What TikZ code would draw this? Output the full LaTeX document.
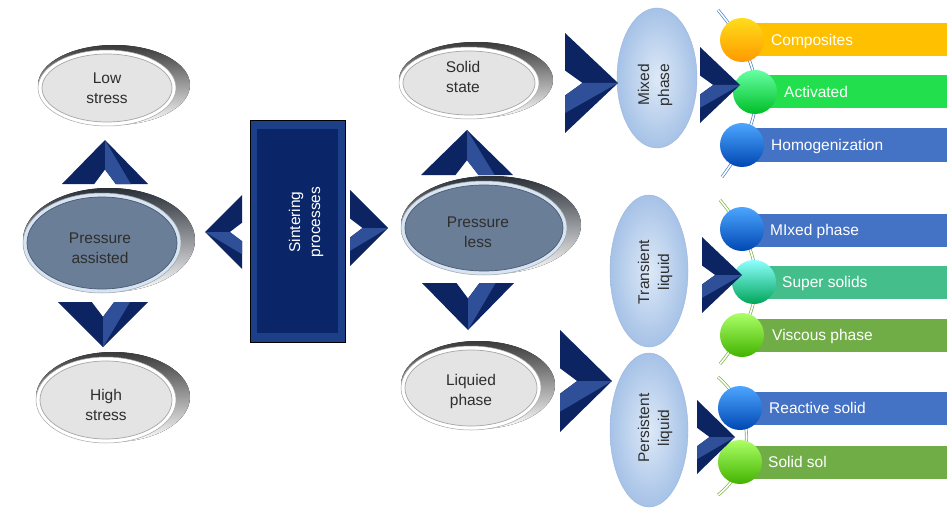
\documentclass[tikz,border=0pt]{standalone}
\usepackage{fontspec}
\setmainfont{Liberation Sans}
\usetikzlibrary{shapes.geometric,calc}
\definecolor{chevdark}{HTML}{0D2463}
\definecolor{chevlight}{HTML}{2F5098}
\definecolor{txtgray}{HTML}{2E2E2E}
\definecolor{gfill}{HTML}{E4E4E4}
\definecolor{pfill}{HTML}{6B7E97}
\definecolor{pedge}{HTML}{4A5A70}
\definecolor{prim}{HTML}{2A3038}
\definecolor{pring}{HTML}{D6E4F3}
\definecolor{grim}{HTML}{3A3A3A}
\definecolor{mid1}{HTML}{DDE9F7}
\definecolor{mid2}{HTML}{A6C2E7}
\definecolor{mid3}{HTML}{9BB6DA}
\definecolor{spouter}{HTML}{1C3F88}
\definecolor{spinner}{HTML}{0B2668}
\definecolor{cComp}{HTML}{FFC000}
\definecolor{cAct}{HTML}{22E04D}
\definecolor{cBlue}{HTML}{4472C4}
\definecolor{cSuper}{HTML}{44BF8B}
\definecolor{cVisc}{HTML}{70AD47}
\definecolor{dblue}{HTML}{4A7EC8}
\definecolor{dgreen}{HTML}{7CB342}

% horizontal chevron: tip x, tip y, back x, half height
\newcommand\hchev[4]{%
  \fill[chevdark] (#1,#2) -- (#3,{#2-#4}) -- (#3,{#2-0.25*#4}) -- ({#3+0.33*(#1-#3)},#2) -- (#3,{#2+0.25*#4}) -- (#3,{#2+#4}) -- cycle;
  \fill[chevlight] (#1,#2) -- ({#3+0.33*(#1-#3)},#2) -- (#3,{#2+0.25*#4}) -- (#3,{#2+0.6*#4}) -- cycle;
}
% vertical chevron: tip x, tip y, back y, half width
\newcommand\vchev[4]{%
  \fill[chevdark] (#1,#2) -- ({#1-#4},#3) -- ({#1-0.25*#4},#3) -- (#1,{#3+0.33*(#2-#3)}) -- ({#1+0.25*#4},#3) -- ({#1+#4},#3) -- cycle;
  \fill[chevlight] (#1,#2) -- (#1,{#3+0.33*(#2-#3)}) -- ({#1+0.25*#4},#3) -- ({#1+0.6*#4},#3) -- cycle;
}
\newcommand\metalback[6]{%
  \fill[top color=#5, middle color=#5!22!white, bottom color=white] ({#1+7},{#2-3}) ellipse [x radius={#3+11}, y radius={#4+6}];
  \fill[#6] (#1,#2) ellipse [x radius={#3+4}, y radius={#4+4}];
  \draw[#5!45!white, line width=0.5] (#1,#2) ellipse [x radius={#3+4}, y radius={#4+4}];
}

\begin{document}
\begin{tikzpicture}[x=1pt,y=-1pt,
  lbl/.style={align=center, font=\fontsize{15.5}{20}\selectfont, text=txtgray, inner sep=0},
  rlbl/.style={lbl, rotate=90},
  gell/.style={ellipse, fill=gfill, draw=gray!70, line width=0.7pt, inner sep=0},
  pell/.style={ellipse, fill=pfill, draw=pedge, line width=0.7pt, inner sep=0},
  midell/.style={ellipse, inner sep=0, shading=radial, inner color=mid1, outer color=mid2, draw=mid3, line width=0.4pt},
  barbox/.style={rectangle, anchor=west, minimum height=33pt, inner sep=0},
  btxt/.style={anchor=base west, font=\fontsize{15.5}{20}\selectfont, text=white, inner sep=0},
  bead/.style={circle, minimum size=44pt, inner sep=0},
  dbl/.style={double distance=1.6pt, line width=0.7pt, double=white}
]
\useasboundingbox (0,0) rectangle (947,508);
\fill[white] (0,0) rectangle (947,508);

% ---- metallic ovals (left group)
\metalback{107}{88}{65}{34}{grim}{white}
\node[gell, minimum width=130pt, minimum height=68pt] (ls) at (107,88) {};
\node[lbl] (lsT) at (107,88) {Low\\stress};

\metalback{102}{243}{75}{46}{prim}{pring}
\node[pell, minimum width=150pt, minimum height=92pt] (pa) at (102,243) {};
\node[lbl] (paT) at (100,248) {Pressure\\assisted};

\metalback{106}{400}{66}{39}{grim}{white}
\node[gell, minimum width=132pt, minimum height=78pt] (hs) at (106,400) {};
\node[lbl] (hsT) at (106,405) {High\\stress};

% ---- sintering processes box
\node[draw=black, fill=spouter, line width=0.9pt, minimum width=95pt, minimum height=222pt, inner sep=0] (sp) at (297.5,231) {};
\fill[spinner] (257,129) rectangle (338,333);
\node[lbl, rotate=90, text=white] (spT) at (306,222) {Sintering\\processes};

% ---- metallic ovals (middle group)
\metalback{469}{83}{66}{32}{grim}{white}
\node[gell, minimum width=132pt, minimum height=64pt] (ss) at (469,83) {};
\node[lbl] (ssT) at (463,77) {Solid\\state};

\metalback{484}{228}{79}{43}{prim}{pring}
\node[pell, minimum width=158pt, minimum height=86pt] (pl) at (484,228) {};
\node[lbl] (plT) at (478,232) {Pressure\\less};

\metalback{471}{388}{66}{38}{grim}{white}
\node[gell, minimum width=132pt, minimum height=76pt] (lp) at (471,388) {};
\node[lbl] (lpT) at (471,391) {Liquied\\phase};

% ---- vertical light-blue ovals
\node[midell, minimum width=80pt, minimum height=140pt] (mp) at (657,78) {};
\node[rlbl] (mpT) at (655,85) {Mixed\\phase};
\node[midell, minimum width=78pt, minimum height=152pt] (tl) at (649,271) {};
\node[rlbl] (tlT) at (655,272) {Transient\\liquid};
\node[midell, minimum width=78pt, minimum height=154pt] (pli) at (649,430) {};
\node[rlbl] (pliT) at (655,428) {Persistent\\liquid};

% ---- chevrons
\vchev{105}{140}{184}{43}
\vchev{103}{347}{302}{45}
\hchev{205}{232}{242}{37}
\hchev{388}{228}{350}{38}
\vchev{467}{130}{175}{46}
\vchev{468}{330}{283}{46}
\hchev{618}{83}{565}{50}
\hchev{612}{381}{560}{51}

% ---- double rails
\coordinate (r1a) at (718,10);  \coordinate (r1b) at (722,177);
\coordinate (r2a) at (720,200); \coordinate (r2b) at (720,364);
\coordinate (r3a) at (718,377); \coordinate (r3b) at (718,495);
\draw[dbl, draw=dblue] (r1a) .. controls (768,70) and (768,115) .. (r1b);
\draw[dbl, draw=dgreen] (r2a) .. controls (768,258) and (768,305) .. (r2b);
\draw[dbl, draw=dgreen] (r3a) .. controls (756,410) and (756,465) .. (r3b);

% ---- bars
\node[barbox, fill=cComp, minimum width=197pt] (b1) at (750,40) {};
\node[barbox, fill=cAct, minimum width=185pt] (b2) at (762,92) {};
\node[barbox, fill=cBlue, minimum width=197pt] (b3) at (750,145) {};
\node[barbox, fill=cBlue, minimum width=197pt] (b4) at (750,230) {};
\node[barbox, fill=cSuper, minimum width=185pt] (b5) at (762,282) {};
\node[barbox, fill=cVisc, minimum width=197pt] (b6) at (750,335) {};
\node[barbox, fill=cBlue, minimum width=199pt] (b7) at (748,408) {};
\node[barbox, fill=cVisc, minimum width=199pt] (b8) at (748,462) {};

% ---- beads
\node[bead, top color=yellow!70!orange!90!white, bottom color=orange!80!yellow] (c1) at (742,40) {};
\node[bead, top color=green!60!cyan!60!white, bottom color=green!70!black!85!cyan] (c2) at (755,92) {};
\node[bead, top color=cyan!50!blue!70!white, bottom color=blue!60!cyan!70!black] (c3) at (742,145) {};
\node[bead, top color=cyan!50!blue!70!white, bottom color=blue!60!cyan!70!black] (c4) at (742,229) {};
\node[bead, top color=cyan!45!white, bottom color=teal!70!green] (c5) at (754,282) {};
\node[bead, top color=lime!60!green!60!white, bottom color=green!50!lime!70!black] (c6) at (742,335) {};
\node[bead, top color=cyan!50!blue!70!white, bottom color=blue!60!cyan!70!black] (c7) at (740,408) {};
\node[bead, top color=lime!60!green!60!white, bottom color=green!50!lime!70!black] (c8) at (740,462) {};

% ---- chevrons pointing to beads
\hchev{740}{85}{700}{38}
\hchev{742}{275}{702}{38}
\hchev{735}{437}{697}{37}

% ---- bar texts
\node[btxt] (t1) at (771,45.5) {Composites};
\node[btxt] (t2) at (784,97.5) {Activated};
\node[btxt] (t3) at (771,150.5) {Homogenization};
\node[btxt] (t4) at (770,235.5) {MIxed phase};
\node[btxt] (t5) at (782,287.5) {Super solids};
\node[btxt] (t6) at (772,340.5) {Viscous phase};
\node[btxt] (t7) at (769,413.5) {Reactive solid};
\node[btxt] (t8) at (768,467.5) {Solid sol};
\end{tikzpicture}
\end{document}
